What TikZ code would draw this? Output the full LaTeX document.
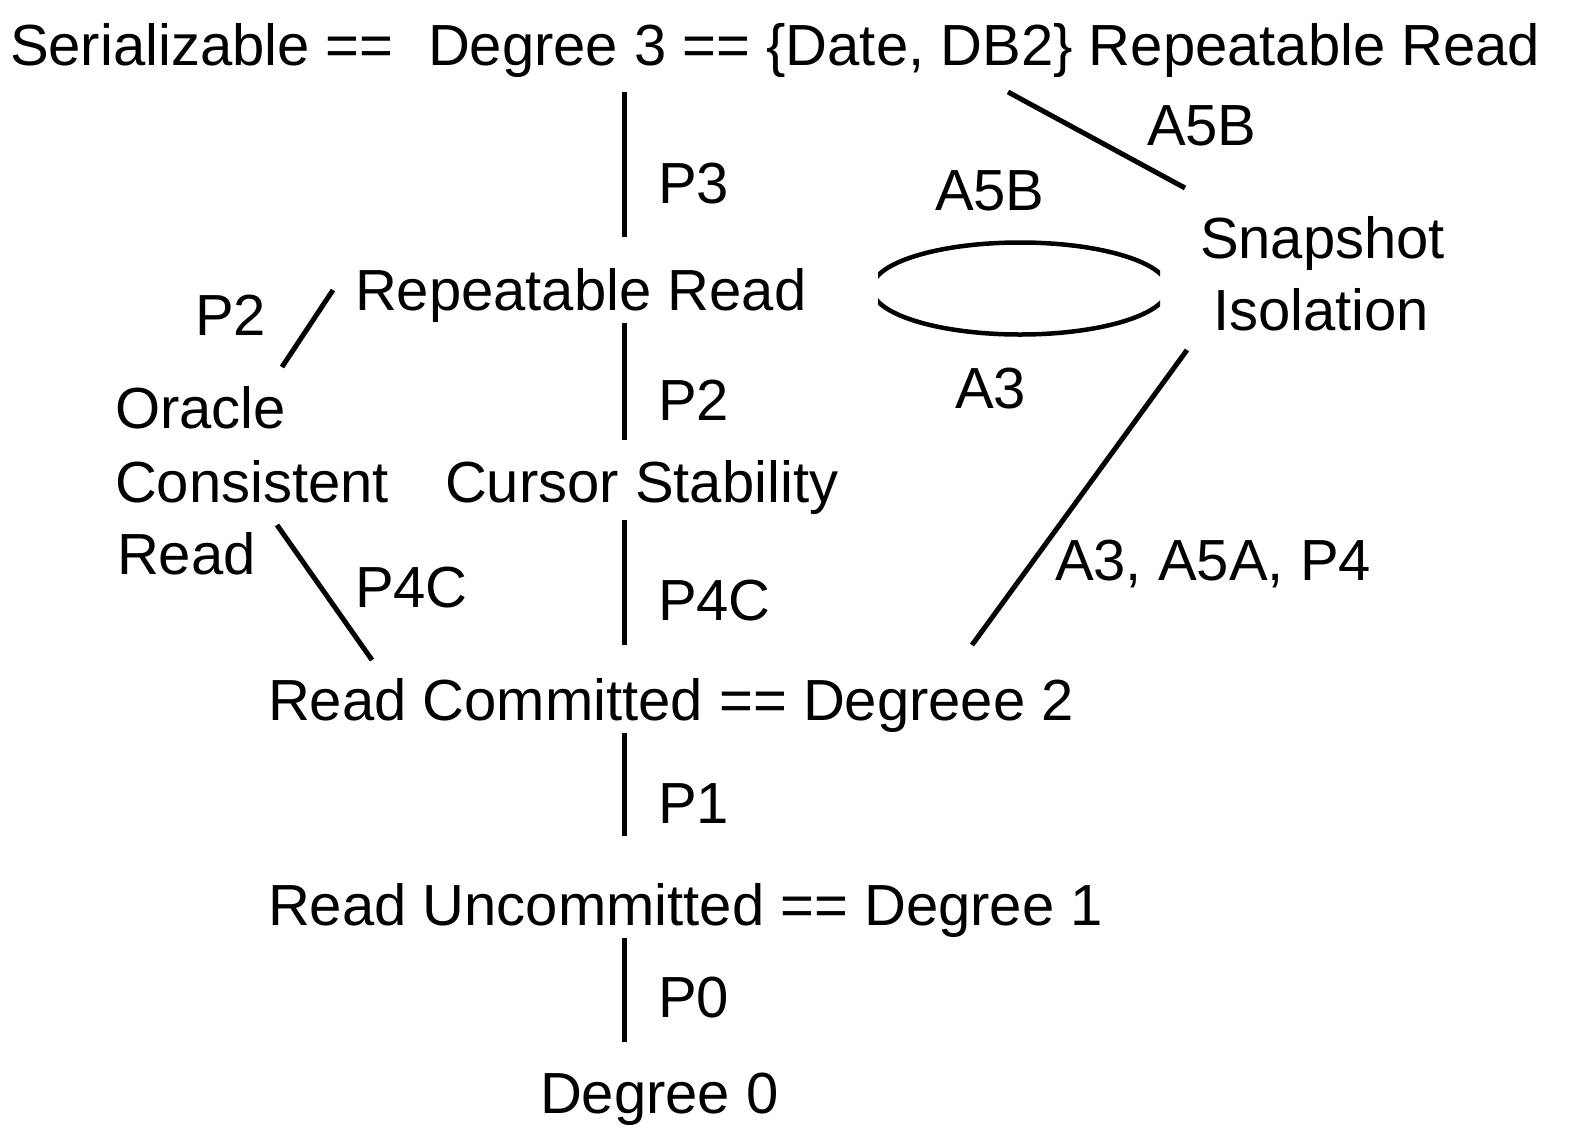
\documentclass[tikz,border=0pt]{standalone}
\usepackage{fontspec}
\setmainfont{Liberation Sans}
\begin{document}
\begin{tikzpicture}[x=1pt,y=-1pt,
  lbl/.style={anchor=base west,inner sep=0pt,outer sep=0pt,font=\fontsize{58}{70}\selectfont},
  edge/.style={line width=5pt}]
\useasboundingbox[fill=white] (0,0) rectangle (1582,1144);
% texts
\node[lbl] (ser) at (10,65) {Serializable ==};
\node[lbl] (deg3) at (428,65) {Degree 3 == \{Date, DB2\} Repeatable Read};
\node[lbl] (p3) at (658,203) {P3};
\node[lbl] (a5bt) at (1147,145) {A5B};
\node[lbl] (a5bm) at (935,210) {A5B};
\node[lbl] (snap) at (1200,258) {Snapshot};
\node[lbl] (iso) at (1213,330) {Isolation};
\node[lbl] (rr) at (355,310) {Repeatable Read};
\node[lbl] (p2l) at (195,335) {P2};
\node[lbl] (ora) at (115,428) {Oracle};
\node[lbl] (cons) at (115,502) {Consistent};
\node[lbl] (oread) at (117,574) {Read};
\node[lbl] (p2c) at (658,420) {P2};
\node[lbl] (a3) at (955,408) {A3};
\node[lbl] (cs) at (445,502) {Cursor Stability};
\node[lbl] (p4cl) at (355,607) {P4C};
\node[lbl] (p4cc) at (658,620) {P4C};
\node[lbl] (a3a5) at (1055,580) {A3, A5A, P4};
\node[lbl] (rc) at (268,720) {Read Committed == Degreee 2};
\node[lbl] (p1) at (658,823) {P1};
\node[lbl] (ru) at (268,925) {Read Uncommitted == Degree 1};
\node[lbl] (p0) at (658,1017) {P0};
\node[lbl] (d0) at (540,1113) {Degree 0};
% connector end points
\coordinate (v1a) at (624,92);  \coordinate (v1b) at (624,237);
\coordinate (v2a) at (624,323); \coordinate (v2b) at (624,440);
\coordinate (v3a) at (624,520); \coordinate (v3b) at (624,645);
\coordinate (v4a) at (624,733); \coordinate (v4b) at (624,836);
\coordinate (v5a) at (624,938); \coordinate (v5b) at (624,1042);
\coordinate (d1a) at (1008,92); \coordinate (d1b) at (1185,188);
\coordinate (d2a) at (1187,350); \coordinate (d2b) at (972,645);
\coordinate (d3a) at (333,290); \coordinate (d3b) at (282,367);
\coordinate (d4a) at (277,525); \coordinate (d4b) at (372,660);
\coordinate (ec) at (1020,288.5);
\draw[edge] (v1a) -- (v1b);
\draw[edge] (v2a) -- (v2b);
\draw[edge] (v3a) -- (v3b);
\draw[edge] (v4a) -- (v4b);
\draw[edge] (v5a) -- (v5b);
\draw[edge] (d1a) -- (d1b);
\draw[edge] (d2a) -- (d2b);
\draw[edge] (d3a) -- (d3b);
\draw[edge] (d4a) -- (d4b);
\begin{scope}
\clip (878,200) rectangle (1160,380);
\draw[line width=4.5pt] (ec) ellipse [x radius=148, y radius=46];
\end{scope}
\end{tikzpicture}
\end{document}
